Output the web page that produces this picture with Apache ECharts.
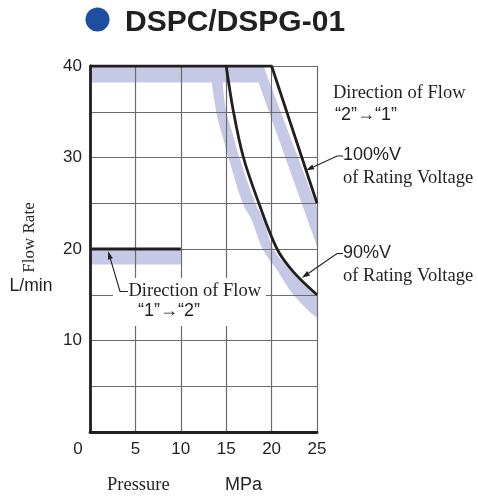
<!DOCTYPE html>
<html><head><meta charset="utf-8">
<script src="https://cdn.jsdelivr.net/npm/echarts@6/dist/echarts.min.js"></script>
<style>html,body{margin:0;padding:0;background:#fff}#c{width:478px;height:499px}</style>
</head><body><div id="c"></div>
<script>
// ---- data ----
const xTickValues = [0, 5, 10, 15, 20, 25];
const yTickLabels = [10, 20, 30, 40];
// Direction "2"->"1", 100% V of rating voltage
const line100V = [[0, 40], [20, 40], [25, 25]];
// Direction "2"->"1", 90% V of rating voltage
const line90V = [[15, 40], [15.8, 35], [16.9, 30], [18.6, 25], [20.6, 20], [22.4, 17.5], [25, 15]];
// Direction "1"->"2"
const line12 = [[0, 20], [10, 20]];
// tolerance bands
const bandTopRight = [[0, 40], [19.1, 40], [25, 24.5], [25, 20.3], [18.56, 38.2], [0, 38.2]];
const bandLeft = [[13.0, 40.6], [13.4, 38.2], [13.9, 35], [14.4, 33], [15.25, 30], [16.8, 25], [17.8, 23.2], [19.0, 20], [20.6, 17.7], [22.4, 15], [25.3, 12.4],
                  [25.3, 14.4], [22.0, 17.7], [20.2, 20], [19.1, 23.2], [18.2, 25], [16.45, 30], [15.6, 33], [15.0, 35], [14.6, 38.2], [14.4, 40.6]];
const band12 = [[0, 20], [10, 20], [10, 18.3], [0, 18.3]];
// arrow tips (data coords)
const tip100 = [23.8, 28.6];
const tip90 = [23.35, 16.85];
const tip12 = [2.0, 19.75];

const INK = '#231f20';
const BAND = '#c6c9e6';
const GRIDC = '#6b6b6b';
const SANS = '"Liberation Sans", Arial, sans-serif';
const SERIF = '"Liberation Serif", "Times New Roman", serif';

const chart = echarts.init(document.getElementById('c'), null, {renderer: 'canvas'});

function bandSeries(name, pts, smooth) {
  return {
    name, type: 'custom', coordinateSystem: 'cartesian2d', z: -1, silent: true, clip: true,
    data: [pts[0]],
    renderItem: (params, api) => ({
      type: 'polygon',
      shape: {points: pts.map(p => api.coord(p)), smooth: smooth || 0},
      style: {fill: BAND}
    })
  };
}
function lineSeries(name, data) {
  return {name, type: 'line', data, symbol: 'none', z: 3,
    lineStyle: {color: INK, width: 2.8}, smooth: false};
}

chart.setOption({
  animation: false,
  backgroundColor: '#fff',
  title: {
    text: 'DSPC/DSPG-01', left: 120, top: 3,
    textStyle: {fontFamily: SANS, fontWeight: 'bold', fontSize: 30, color: INK}
  },
  grid: {left: 90, right: 161, top: 66, bottom: 67},
  xAxis: {
    type: 'value', min: 0, max: 25, interval: 5,
    axisLine: {show: true, onZero: false, lineStyle: {color: INK, width: 2.8}},
    axisTick: {show: false},
    splitLine: {show: true, lineStyle: {color: GRIDC, width: 1.2}},
    axisLabel: {
      margin: 9, fontFamily: SANS, fontSize: 17, color: INK,
      formatter: v => xTickValues.indexOf(v) === 0 ? '{z|' + v + '}' : String(v),
      rich: {z: {padding: [0, 24, 0, 0], fontFamily: SANS, fontSize: 17, color: INK}}
    }
  },
  yAxis: {
    type: 'value', min: 0, max: 40, interval: 5,
    axisLine: {show: true, onZero: false, lineStyle: {color: INK, width: 2.8}},
    axisTick: {show: false},
    splitLine: {show: true, lineStyle: {color: GRIDC, width: 1.2}},
    axisLabel: {
      margin: 8, fontFamily: SANS, fontSize: 17, color: INK,
      formatter: v => yTickLabels.indexOf(v) >= 0 ? String(v) : ''
    }
  },
  series: [
    bandSeries('band-top', bandTopRight),
    bandSeries('band-left', bandLeft, 0.35),
    bandSeries('band-12', band12),
    lineSeries('100%V', line100V),
    Object.assign(lineSeries('90%V', line90V), {smooth: 0.35}),
    lineSeries('1-2', line12)
  ]
});

// ---- annotations ----
function px(p) { return chart.convertToPixel({gridIndex: 0}, p); }
function arrow(points) {
  const n = points.length;
  const [tx, ty] = points[n - 1];
  const [fx, fy] = points[n - 2];
  const dx = tx - fx, dy = ty - fy, L = Math.hypot(dx, dy);
  const ux = dx / L, uy = dy / L;
  const hl = 8, hw = 2.6;
  const bx = tx - ux * hl, by = ty - uy * hl;
  const shaft = points.slice(0, n - 1).concat([[bx, by]]);
  return [
    {type: 'polyline', z: 20, shape: {points: shaft}, style: {stroke: INK, lineWidth: 1.1, fill: null}},
    {type: 'polygon', z: 20, shape: {points: [[tx, ty], [bx - uy * hw, by + ux * hw], [bx + uy * hw, by - ux * hw]]}, style: {fill: INK}}
  ];
}
function txt(text, x, y, font, size, extra) {
  return Object.assign({type: 'text', z: 21, x, y, style: {text, fontFamily: font, fontSize: size, fill: INK, align: 'left', verticalAlign: 'middle'}}, extra || {});
}

const g = [];
g.push({type: 'circle', z: 20, shape: {cx: 97.5, cy: 19.5, r: 12}, style: {fill: '#1d4ea0'}});
// white box behind lower-left note
g.push({type: 'rect', z: 15, shape: {x: 113, y: 278, width: 153, height: 48}, style: {fill: '#fff'}});
g.push(txt('Direction of Flow', 128.5, 291.5, SERIF, 18.5));
g.push(txt('“1”→“2”', 138, 311.5, SANS, 18));
g.push(...arrow([[128, 291.5], [120, 291.5], px(tip12)]));
// right-side notes
g.push(txt('Direction of Flow', 333, 93.5, SERIF, 18.5));
g.push(txt('“2”→“1”', 335, 115, SANS, 18));
g.push(txt('100%V', 343, 155.5, SANS, 18));
g.push(txt('of Rating Voltage', 343, 178.5, SERIF, 18.5));
g.push(...arrow([[343, 156], [337, 156], px(tip100)]));
g.push(txt('90%V', 343, 253.5, SANS, 18));
g.push(txt('of Rating Voltage', 343, 276.5, SERIF, 18.5));
g.push(...arrow([[343, 253.5], [337, 253.5], px(tip90)]));
// axis titles
g.push(txt('Flow Rate', 30, 237.5, SERIF, 17, {rotation: Math.PI / 2, style: {text: 'Flow Rate', fontFamily: SERIF, fontSize: 17, fill: INK, align: 'center', verticalAlign: 'middle'}}));
g.push(txt('L/min', 31, 286, SANS, 17.5, {style: {text: 'L/min', fontFamily: SANS, fontSize: 17.5, fill: INK, align: 'center', verticalAlign: 'middle'}}));
g.push(txt('Pressure', 107, 485, SERIF, 18.5));
g.push(txt('MPa', 225, 485, SANS, 18));
chart.setOption({graphic: g});
</script>
</body></html>
